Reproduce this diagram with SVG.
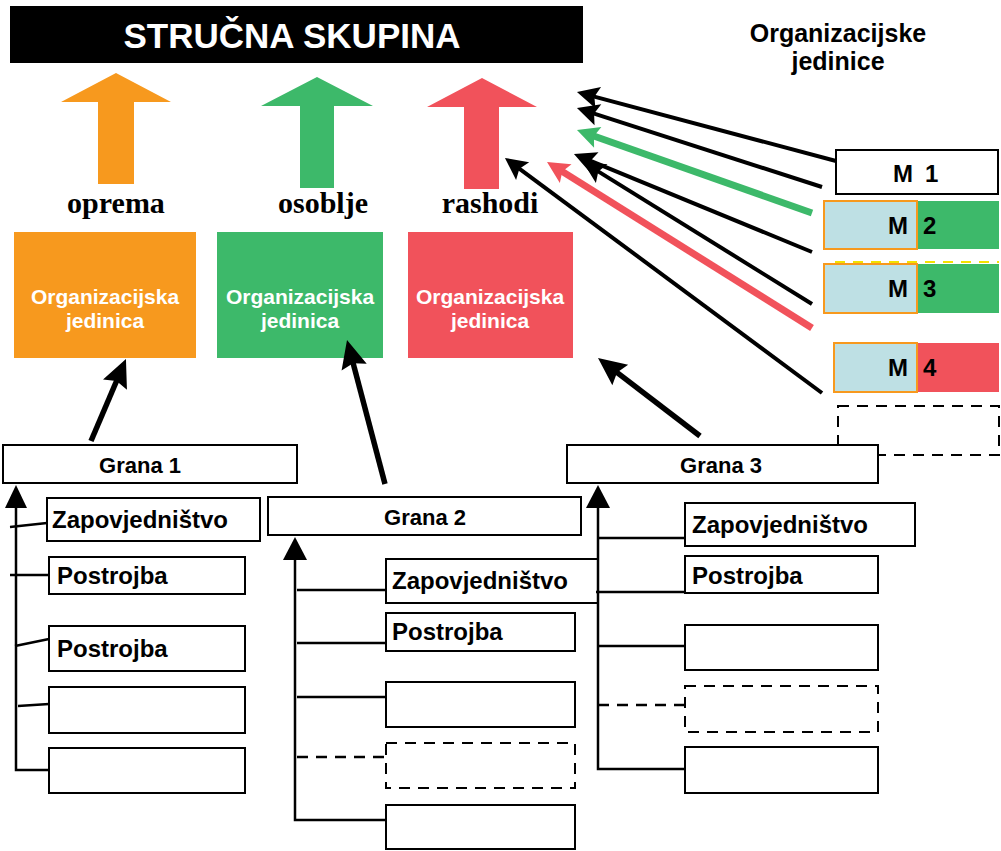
<svg xmlns="http://www.w3.org/2000/svg" width="1001" height="851" viewBox="0 0 1001 851">
<style>
.sans{font-family:"Liberation Sans",Arial,sans-serif;font-weight:bold}
.serif{font-family:"Liberation Serif","Times New Roman",serif;font-weight:bold;font-size:30px;fill:#000}
.box{fill:#fff;stroke:#000;stroke-width:2}
.dbox{fill:#fff;stroke:#000;stroke-width:2;stroke-dasharray:11 8}
.lbl{font-size:24px;fill:#000}
.gr{font-size:22px;fill:#000;text-anchor:middle}
.wt{font-size:21px;fill:#fff;text-anchor:middle}
.mt{font-size:24px;fill:#000}
.thin{fill:none;stroke:#000;stroke-width:4}
.thick{fill:none;stroke:#000;stroke-width:5.5}
.br{fill:none;stroke:#000;stroke-width:2.5}
.brd{fill:none;stroke:#000;stroke-width:2.5;stroke-dasharray:11 8}
</style>
<defs>
<marker id="ah" markerUnits="userSpaceOnUse" markerWidth="24" markerHeight="22" refX="8" refY="11" orient="auto" overflow="visible"><path d="M0,0 L22,11 L0,22 L4,11 z" fill="#000"/></marker>
<marker id="ahg" markerUnits="userSpaceOnUse" markerWidth="24" markerHeight="22" refX="8" refY="11" orient="auto" overflow="visible"><path d="M0,0 L22,11 L0,22 L4,11 z" fill="#3DB96A"/></marker>
<marker id="ahr" markerUnits="userSpaceOnUse" markerWidth="24" markerHeight="22" refX="8" refY="11" orient="auto" overflow="visible"><path d="M0,0 L22,11 L0,22 L4,11 z" fill="#F1525B"/></marker>
<marker id="ahb" markerUnits="userSpaceOnUse" markerWidth="30" markerHeight="26" refX="10" refY="13" orient="auto" overflow="visible"><path d="M0,0 L28,13 L0,26 L4,13 z" fill="#000"/></marker>
</defs>

<g id="title">
<rect x="10" y="6" width="573" height="57" fill="#000"/>
<text class="sans" x="292" y="48" font-size="35" fill="#fff" text-anchor="middle">STRUČNA SKUPINA</text>
</g>

<g id="arrow-oprema">
<polygon points="116,73 171,102 134,102 134,184 98,184 98,102 61,102" fill="#F7991E"/>
<text class="serif" x="116" y="213" text-anchor="middle">oprema</text>
</g>
<g id="arrow-osoblje">
<polygon points="317,77 373,106 334,106 334,188 300,188 300,106 261,106" fill="#3DB96A"/>
<text class="serif" x="323" y="213" text-anchor="middle">osoblje</text>
</g>
<g id="arrow-rashodi">
<polygon points="482,78 537,107 499,107 499,189 464,189 464,107 427,107" fill="#F1525B"/>
<text class="serif" x="490" y="213" text-anchor="middle">rashodi</text>
</g>

<g id="oj-orange">
<rect x="14" y="232" width="182" height="126" fill="#F7991E"/>
<text class="sans wt" x="105" y="304">Organizacijska</text>
<text class="sans wt" x="105" y="328">jedinica</text>
</g>
<g id="oj-green">
<rect x="217" y="232" width="166" height="126" fill="#3DB96A"/>
<text class="sans wt" x="300" y="304">Organizacijska</text>
<text class="sans wt" x="300" y="328">jedinica</text>
</g>
<g id="oj-red">
<rect x="408" y="232" width="165" height="126" fill="#F1525B"/>
<text class="sans wt" x="490" y="304">Organizacijska</text>
<text class="sans wt" x="490" y="328">jedinica</text>
</g>

<g id="header">
<text class="sans" x="838" y="42" font-size="25" text-anchor="middle">Organizacijske</text>
<text class="sans" x="838" y="70" font-size="25" text-anchor="middle">jedinice</text>
</g>

<g id="m1">
<rect class="box" x="836" y="150" width="162" height="44"/>
<text class="sans mt" y="182"><tspan x="893">M</tspan> <tspan x="925">1</tspan></text>
</g>
<g id="m2">
<rect x="917" y="201" width="82" height="48" fill="#3DB96A"/>
<rect x="824" y="201" width="93" height="48" fill="#BEE0E4" stroke="#F7991E" stroke-width="2"/>
<text class="sans mt" x="908" y="234" text-anchor="end">M</text>
<text class="sans mt" x="923" y="234">2</text>
</g>
<g id="m3">
<line x1="835" y1="262" x2="999" y2="262" stroke="#F2E200" stroke-width="2" stroke-dasharray="10 8"/>
<rect x="917" y="264" width="82" height="49" fill="#3DB96A"/>
<rect x="824" y="264" width="93" height="49" fill="#BEE0E4" stroke="#F7991E" stroke-width="2"/>
<text class="sans mt" x="908" y="297" text-anchor="end">M</text>
<text class="sans mt" x="923" y="297">3</text>
</g>
<g id="m4">
<rect x="917" y="343" width="82" height="49" fill="#F1525B"/>
<rect x="834" y="343" width="83" height="49" fill="#BEE0E4" stroke="#F7991E" stroke-width="2"/>
<text class="sans mt" x="908" y="376" text-anchor="end">M</text>
<text class="sans mt" x="923" y="376">4</text>
</g>
<g id="m5">
<rect x="838" y="406" width="161" height="49" fill="none" stroke="#000" stroke-width="2" stroke-dasharray="11 8"/>
</g>

<g id="grana1">
<rect class="box" x="3" y="445" width="294" height="38"/>
<text class="sans gr" x="140" y="473">Grana 1</text>
</g>
<g id="g1-zap"><rect class="box" x="47" y="498" width="213" height="43"/><text class="sans lbl" x="52" y="528">Zapovjedništvo</text></g>
<g id="g1-post1"><rect class="box" x="49" y="557" width="196" height="37"/><text class="sans lbl" x="57" y="584">Postrojba</text></g>
<g id="g1-post2"><rect class="box" x="49" y="626" width="196" height="45"/><text class="sans lbl" x="57" y="657">Postrojba</text></g>
<g id="g1-e1"><rect class="box" x="49" y="687" width="196" height="46"/></g>
<g id="g1-e2"><rect class="box" x="49" y="748" width="196" height="45"/></g>

<g id="grana2">
<rect class="box" x="268" y="497" width="313" height="38"/>
<text class="sans gr" x="425" y="525">Grana 2</text>
</g>
<g id="g2-zap"><rect class="box" x="386" y="559" width="212" height="44"/><text class="sans lbl" x="392" y="589">Zapovjedništvo</text></g>
<g id="g2-post"><rect class="box" x="386" y="613" width="189" height="38"/><text class="sans lbl" x="392" y="640">Postrojba</text></g>
<g id="g2-e1"><rect class="box" x="386" y="682" width="189" height="45"/></g>
<g id="g2-e2"><rect class="dbox" x="386" y="743" width="189" height="45"/></g>
<g id="g2-e3"><rect class="box" x="386" y="805" width="189" height="44"/></g>

<g id="grana3">
<rect class="box" x="567" y="445" width="311" height="38"/>
<text class="sans gr" x="721" y="473">Grana 3</text>
</g>
<g id="g3-zap"><rect class="box" x="685" y="503" width="230" height="43"/><text class="sans lbl" x="692" y="533">Zapovjedništvo</text></g>
<g id="g3-post"><rect class="box" x="685" y="556" width="193" height="37"/><text class="sans lbl" x="692" y="584">Postrojba</text></g>
<g id="g3-e1"><rect class="box" x="685" y="625" width="193" height="45"/></g>
<g id="g3-e2"><rect class="dbox" x="685" y="686" width="193" height="46"/></g>
<g id="g3-e3"><rect class="box" x="685" y="747" width="193" height="46"/></g>

<g id="connectors">
<line class="thin" x1="836" y1="161" x2="590.5" y2="95.6" marker-end="url(#ah)"/>
<line class="thin" x1="822" y1="187" x2="590.3" y2="112.3" marker-end="url(#ah)"/>
<line x1="812" y1="213" x2="590.2" y2="134.7" stroke="#3DB96A" stroke-width="7" marker-end="url(#ahg)"/>
<line class="thin" x1="812" y1="252" x2="586.9" y2="159.3" marker-end="url(#ah)"/>
<line class="thin" x1="812" y1="304" x2="594.9" y2="169.4" marker-end="url(#ah)"/>
<line x1="812" y1="328" x2="558.9" y2="169.4" stroke="#F1525B" stroke-width="7" marker-end="url(#ahr)"/>
<line class="thin" x1="822" y1="393" x2="516.2" y2="166.3" marker-end="url(#ah)"/>

<line class="thick" x1="91" y1="441" x2="118.9" y2="375.5" marker-end="url(#ahb)"/>
<line class="thick" x1="385" y1="484" x2="351.6" y2="357.4" marker-end="url(#ahb)"/>
<line class="thick" x1="700" y1="436" x2="612.3" y2="368.9" marker-end="url(#ahb)"/>

<path class="br" d="M16,506 V770 H49"/>
<polygon points="16,485 27,508 5,508" fill="#000"/>
<path class="br" d="M10,527 L47,523 M10,575 H49 M15,646 L49,639 M18,706 L49,704"/>

<path class="br" d="M295,558 V820 H386"/>
<polygon points="295,537 307,560 283,560" fill="#000"/>
<path class="br" d="M297,590 H386 M297,643 H386 M297,697 H386"/>
<path class="brd" d="M297,757 H386"/>

<path class="br" d="M598,506 V769 H685"/>
<polygon points="598,485 610,508 586,508" fill="#000"/>
<path class="br" d="M598,538 H685 M596,592 H685 M598,646 H685"/>
<path class="brd" d="M598,705 H685"/>
</g>
</svg>
